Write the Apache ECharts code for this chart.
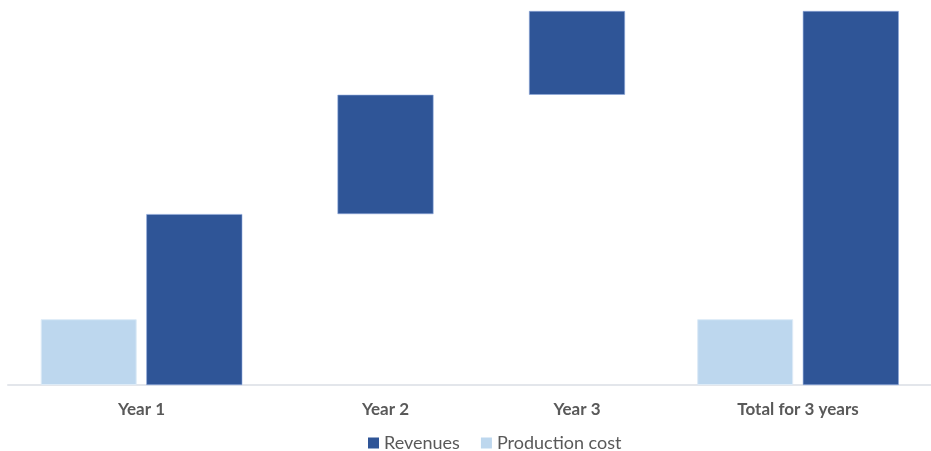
<!DOCTYPE html>
<html>
<head>
<meta charset="utf-8">
<script src="https://cdn.jsdelivr.net/npm/echarts@6/dist/echarts.min.js"></script>
<style>
  html, body { margin: 0; padding: 0; background: #ffffff; }
  #chart { width: 931px; height: 451px; }
</style>
</head>
<body>
<div id="chart"></div>
<script>
// ---- Data ----
const categories = ['Year 1', 'Year 2', 'Year 3', 'Total for 3 years'];
const revenues = [45.7, 31.9, 22.4, 100];
const productionCost = [17.6, null, null, 17.6];
const isTotal = [false, false, false, true];

// ---- Layout (styling only) ----
const gridCenters = [141.5, 385.5, 577, 798];
const gridHalf = 130;
const gridTop = 11, gridBottom = 66;
const darkBlue = '#2F5597', lightBlue = '#BDD7EE';
const font = 'Lato, "Open Sans", sans-serif';

// floating bases computed from the revenue values
const bases = [];
let running = 0;
for (let i = 0; i < categories.length; i++) {
  if (isTotal[i]) { bases.push(0); }
  else { bases.push(running); running += revenues[i]; }
}

const grids = [], xAxes = [], yAxes = [], series = [];
categories.forEach((cat, i) => {
  grids.push({ left: gridCenters[i] - gridHalf, width: gridHalf * 2, top: gridTop, bottom: gridBottom });
  xAxes.push({
    type: 'category', gridIndex: i, data: [cat],
    axisLine: { show: false }, axisTick: { show: false },
    axisLabel: { color: '#595959', fontWeight: 'bold', fontSize: 17, fontFamily: font, margin: 16 }
  });
  yAxes.push({ type: 'value', gridIndex: i, min: 0, max: 100, show: false, splitLine: { show: false } });
  const hasCost = productionCost[i] != null;
  if (hasCost) {
    series.push({
      name: 'Production cost', type: 'bar', xAxisIndex: i, yAxisIndex: i,
      data: [productionCost[i]], barWidth: 96, barGap: '10%',
      itemStyle: { color: lightBlue, borderColor: '#DDEBF7', borderWidth: 1 }
    });
  }
  if (bases[i] > 0) {
    series.push({
      name: '_base', type: 'bar', stack: 'rev' + i, xAxisIndex: i, yAxisIndex: i,
      data: [bases[i]], barWidth: 96, barGap: '10%', silent: true,
      itemStyle: { color: 'transparent' }
    });
  }
  series.push({
    name: 'Revenues', type: 'bar', stack: 'rev' + i, xAxisIndex: i, yAxisIndex: i,
    data: [revenues[i]], barWidth: 96, barGap: '10%',
    itemStyle: { color: darkBlue, borderColor: '#8FAADC', borderWidth: 0.6 }
  });
});

// baseline frame grid (axis line across the full width)
grids.push({ left: 8, right: 0, top: gridTop, bottom: gridBottom });
xAxes.push({
  type: 'category', gridIndex: 4, data: [''],
  axisLine: { show: true, lineStyle: { color: '#E3E6EB', width: 2 } },
  axisTick: { show: false }, axisLabel: { show: false }
});
yAxes.push({ type: 'value', gridIndex: 4, min: 0, max: 100, show: false, splitLine: { show: false } });

const chart = echarts.init(document.getElementById('chart'), null, { renderer: 'canvas' });
chart.setOption({
  animation: false,
  backgroundColor: '#ffffff',
  legend: {
    data: ['Revenues', 'Production cost'],
    top: 429, left: 363,
    icon: 'rect', itemWidth: 11, itemHeight: 11, itemGap: 21,
    itemStyle: { borderWidth: 0 },
    textStyle: { color: '#595959', fontSize: 18, fontFamily: font }
  },
  grid: grids,
  xAxis: xAxes,
  yAxis: yAxes,
  series: series
});
</script>
</body>
</html>
